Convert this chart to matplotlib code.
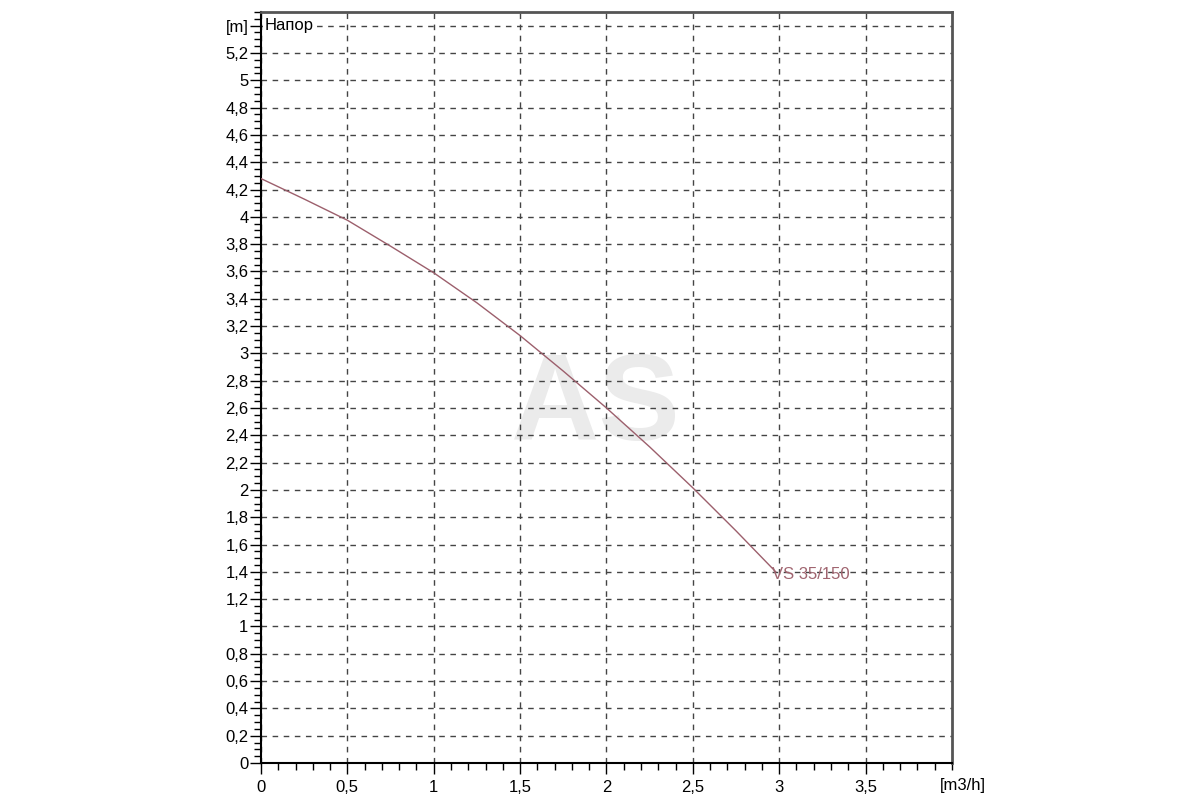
import numpy as np
import matplotlib.pyplot as plt
from matplotlib.ticker import MultipleLocator, FixedLocator

plt.rcParams['font.family'] = ['Liberation Sans', 'DejaVu Sans']

# кривая насоса (расход, напор)
flow = [0.0, 0.25, 0.5, 0.75, 1.0, 1.25, 1.5, 1.75, 2.0, 2.25, 2.5, 2.75, 2.98]
head = [4.28, 4.13, 3.975, 3.785, 3.59, 3.37, 3.13, 2.87, 2.60, 2.315, 2.015, 1.70, 1.40]
curve_name = 'VS 35/150'

x_ticks = [0, 0.5, 1, 1.5, 2, 2.5, 3, 3.5]
x_labels = ['0', '0,5', '1', '1,5', '2', '2,5', '3', '3,5']
y_ticks = [round(0.2 * i, 1) for i in range(28)]
y_labels = [('%g' % v).replace('.', ',') for v in y_ticks[:-1]] + ['[m]']

fig = plt.figure(figsize=(12, 8), dpi=100)
ax = fig.add_axes([0.2175, 0.04625, 0.5758, 0.93875])

line_col = '#9c5f6c'
ax.plot(flow, head, color=line_col, lw=1.0, zorder=3)
ax.text(flow[-1] - 0.02, head[-1] - 0.02, curve_name, color='#a06570', fontsize=12,
        ha='left', va='center', zorder=4)

# водяной знак
ax.text(1.94, 2.60, 'AS', color='#ebebeb', fontsize=88, fontweight='bold',
        ha='center', va='center', zorder=1)

ax.set_xlim(0, 4)
ax.set_ylim(0, 5.5)
ax.xaxis.set_major_locator(FixedLocator(x_ticks))
ax.set_xticklabels(x_labels)
ax.xaxis.set_minor_locator(MultipleLocator(0.1))
ax.yaxis.set_major_locator(FixedLocator(y_ticks))
ax.set_yticklabels(y_labels)
ax.yaxis.set_minor_locator(MultipleLocator(0.05))

ax.tick_params(axis='both', which='major', direction='out', length=8, width=1,
               labelsize=12, color='black')
ax.tick_params(axis='x', which='major', pad=4)
ax.tick_params(axis='y', which='major', pad=1)
ax.tick_params(axis='both', which='minor', direction='out', length=5, width=1,
               color='black')

ax.grid(True, which='major', linestyle=(0, (4, 4)), color='#444444', lw=1, zorder=2)

for s in ['left', 'bottom']:
    ax.spines[s].set_linewidth(1.5)
    ax.spines[s].set_color('black')
for s in ['top', 'right']:
    ax.spines[s].set_linewidth(2)
    ax.spines[s].set_color('#555555')

ax.text(0.02, 5.4, 'Напор', fontsize=12, ha='left', va='center', zorder=5,
        bbox=dict(facecolor='white', edgecolor='none', pad=1))
ax.text(4.065, -0.168, '[m3/h]', fontsize=12, ha='center', va='center', clip_on=False)

fig.savefig('out.png', dpi=100)
